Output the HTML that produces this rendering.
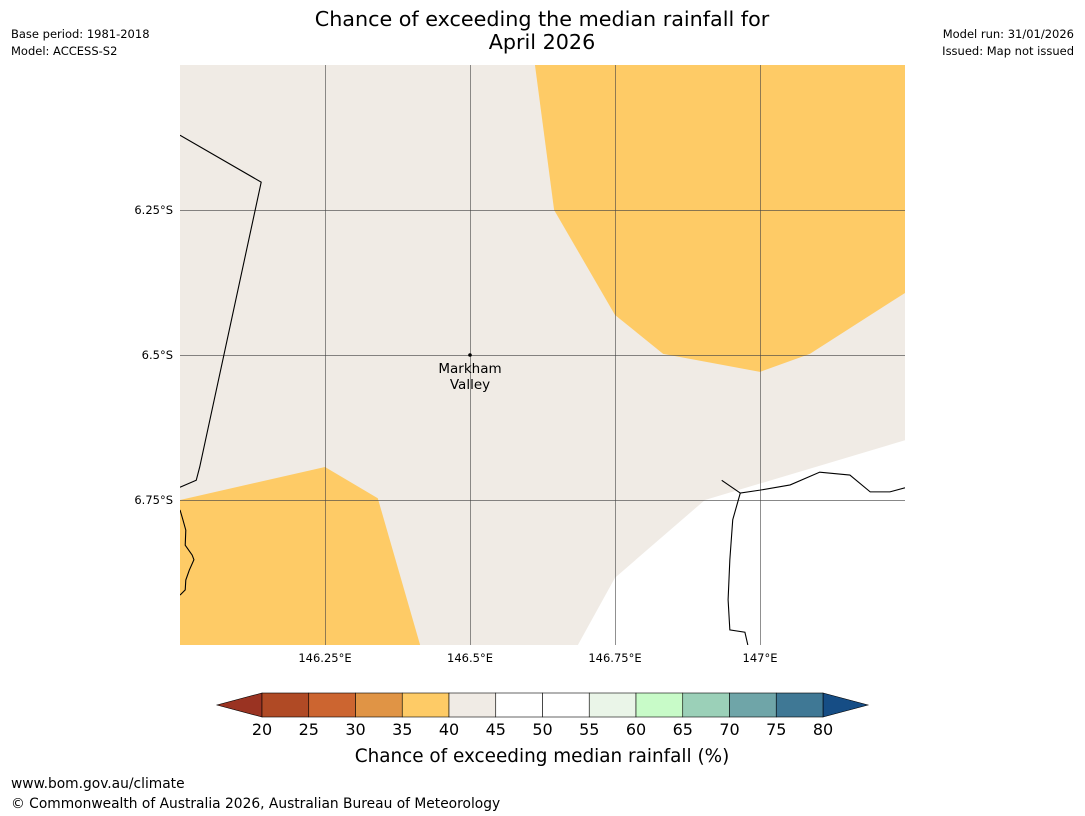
<!DOCTYPE html>
<html><head><meta charset="utf-8">
<style>
body{margin:0;background:#fff;font-family:"Liberation Sans","DejaVu Sans",sans-serif;}
#wrap{position:relative;width:1085px;height:816px;overflow:hidden;}
svg text{font-family:"DejaVu Sans","Liberation Sans",sans-serif;}
</style></head>
<body>
<div id="wrap">
<svg id="svg" width="1085" height="816">
<text x="542" y="26" font-size="20.7" text-anchor="middle">Chance of exceeding the median rainfall for</text>
<text x="542" y="49" font-size="20.7" text-anchor="middle">April 2026</text>
<text x="11" y="38" font-size="11.5">Base period: 1981-2018</text>
<text x="11" y="55" font-size="11.5">Model: ACCESS-S2</text>
<text x="1074" y="38" font-size="11.5" text-anchor="end">Model run: 31/01/2026</text>
<text x="1074" y="55" font-size="11.5" text-anchor="end">Issued: Map not issued</text>
<g id="map"></g>
<g id="cbar"></g>
<text x="542" y="762" font-size="18.4" text-anchor="middle">Chance of exceeding median rainfall (%)</text>
<text x="11" y="788" font-size="13.8">www.bom.gov.au/climate</text>
<text x="11" y="808" font-size="13.8">© Commonwealth of Australia 2026, Australian Bureau of Meteorology</text>
</svg>
</div>
<script>
const lonTicks=[146.25,146.5,146.75,147.0];
const lonTickLabels=["146.25°E","146.5°E","146.75°E","147°E"];
const latTicks=[6.25,6.5,6.75];
const latTickLabels=["6.25°S","6.5°S","6.75°S"];
const orangeTRLon=[146.612,146.645,146.750,146.833,147.0,147.086,147.25,147.25];
const orangeTRLat=[6.0,6.25,6.431,6.498,6.529,6.498,6.393,6.0];
const orangeBLLon=[146.0,146.25,146.341,146.414,146.0];
const orangeBLLat=[6.75,6.693,6.747,7.0,7.0];
const whiteLon=[147.25,146.905,146.75,146.686,147.25];
const whiteLat=[6.647,6.75,6.884,7.0,7.0];
const borderLon=[146.0,146.140,146.034,146.028,146.0];
const borderLat=[6.121,6.202,6.693,6.716,6.728];
const coastRLon=[146.934,146.966,147.0,147.052,147.103,147.155,147.19,147.224,147.25];
const coastRLat=[6.716,6.738,6.733,6.724,6.702,6.707,6.736,6.736,6.729];
const coastR2Lon=[146.966,146.953,146.948,146.945,146.948,146.974,146.979];
const coastR2Lat=[6.738,6.784,6.853,6.922,6.974,6.978,7.0];
const coastLLon=[146.0,146.005,146.010,146.009,146.021,146.024,146.016,146.010,146.009,146.0];
const coastLLat=[6.767,6.784,6.802,6.828,6.845,6.853,6.871,6.888,6.905,6.914];
const placeLon=146.5, placeLat=6.5;
const cbVals=[20,25,30,35,40,45,50,55,60,65,70,75,80];
const cbColors=["#b04a25","#cc6530","#e09445","#fecb66","#f0ebe5","#ffffff","#ffffff","#eaf5e8","#c8fbc8","#9bd0b8","#6fa5a8","#3f7895"];
const cbLow="#9a3322", cbHigh="#164d85";

const NS="http://www.w3.org/2000/svg";
const X0=180,X1=905,Y0=65,Y1=645;
const lonMin=146.0,lonMax=147.25,latMin=6.0,latMax=7.0;
const px=l=>X0+(l-lonMin)/(lonMax-lonMin)*(X1-X0);
const py=l=>Y0+(l-latMin)/(latMax-latMin)*(Y1-Y0);
function mk(tag,attrs,parent){const e=document.createElementNS(NS,tag);for(const k in attrs)e.setAttribute(k,attrs[k]);parent.appendChild(e);return e;}
const map=document.getElementById('map');
const defs=mk('defs',{},map);
const cp=mk('clipPath',{id:'clip'},defs);
mk('rect',{x:X0,y:Y0,width:X1-X0,height:Y1-Y0},cp);
const g=mk('g',{'clip-path':'url(#clip)'},map);
const bg=mk('rect',{x:X0,y:Y0,width:X1-X0,height:Y1-Y0,fill:'#f0ebe5'},g);


function pts(lo,la){return lo.map((v,i)=>px(v)+','+py(la[i])).join(' ');}
const p1=mk('polygon',{points:pts(orangeTRLon,orangeTRLat),fill:'#fecb66'},g);


const p2=mk('polygon',{points:pts(orangeBLLon,orangeBLLat),fill:'#fecb66'},g);


const p3=mk('polygon',{points:pts(whiteLon,whiteLat),fill:'#ffffff'},g);


lonTicks.forEach((t,i)=>{
 const l=mk('line',{x1:px(t)+0.5,x2:px(t)+0.5,y1:Y0,y2:Y1,stroke:'#444','stroke-width':0.7,'stroke-opacity':0.85},g);
 
 
 const tx=mk('text',{x:px(t),y:Y1+17,'font-size':11.5,'text-anchor':'middle'},map);tx.textContent=lonTickLabels[i];
 
 
});
latTicks.forEach((t,i)=>{
 const l=mk('line',{x1:X0,x2:X1,y1:py(t)+0.5,y2:py(t)+0.5,stroke:'#444','stroke-width':0.7,'stroke-opacity':0.85},g);
 
 
 const tx=mk('text',{x:X0-7,y:py(t)+4,'font-size':11.5,'text-anchor':'end'},map);tx.textContent=latTickLabels[i];
 
 
});
[[borderLon,borderLat,'border-line'],[coastRLon,coastRLat,'coastline-east'],[coastR2Lon,coastR2Lat,'coastline-east-south'],[coastLLon,coastLLat,'coastline-west']].forEach(a=>{
 const l=mk('polyline',{points:pts(a[0],a[1]),fill:'none',stroke:'#000','stroke-width':1.1},g);
 
 
});
const dot=mk('circle',{cx:px(placeLon),cy:py(placeLat),r:1.8,fill:'#000'},map);


const pl1=mk('text',{x:px(placeLon),y:py(placeLat)+18,'font-size':13.5,'text-anchor':'middle'},map);pl1.textContent='Markham';


const pl2=mk('text',{x:px(placeLon),y:py(placeLat)+34,'font-size':13.5,'text-anchor':'middle'},map);pl2.textContent='Valley';



const cb=document.getElementById('cbar');
const C0=262,C1=823,CY=693,CH=24;
const cx=v=>C0+(v-cbVals[0])/(cbVals[cbVals.length-1]-cbVals[0])*(C1-C0);
const lo=mk('polygon',{points:`${C0},${CY} ${C0},${CY+CH} 217,${CY+CH/2}`,fill:cbLow,stroke:'#000','stroke-width':0.6},cb);


const hi=mk('polygon',{points:`${C1},${CY} ${C1},${CY+CH} 868,${CY+CH/2}`,fill:cbHigh,stroke:'#000','stroke-width':0.6},cb);


cbColors.forEach((c,i)=>{
 const r=mk('rect',{x:cx(cbVals[i]),y:CY,width:cx(cbVals[i+1])-cx(cbVals[i]),height:CH,fill:c,stroke:'#000','stroke-width':0.6},cb);
 
 
});
cbVals.forEach(v=>{
 const t=mk('text',{x:cx(v),y:CY+CH+18,'font-size':16,'text-anchor':'middle'},cb);t.textContent=v;
 
 
});
</script>
</body></html>
